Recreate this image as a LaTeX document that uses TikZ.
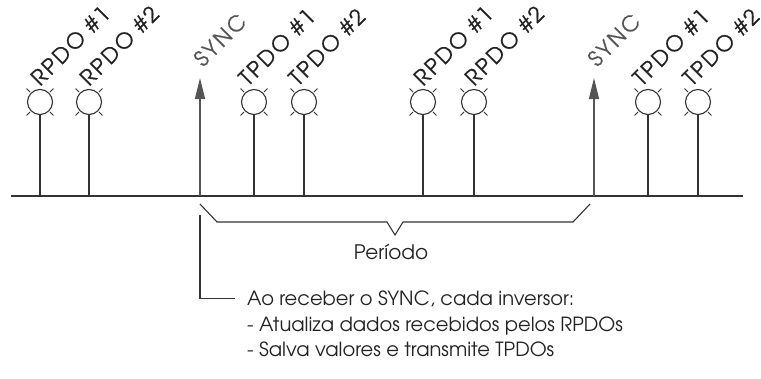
\documentclass[tikz,border=0pt]{standalone}
\usepackage{fontspec}
\setmainfont{texgyreadventor-regular.otf}
\usepackage{tikz}
\usetikzlibrary{arrows.meta}

\definecolor{ink}{HTML}{222222}
\definecolor{wire}{HTML}{333333}
\definecolor{syncgray}{HTML}{555555}

\tikzset{
  lamp/.style={circle, draw=wire, line width=1.1pt, fill=white, minimum size=25pt, inner sep=0pt},
  pdolabel/.style={rotate=45, anchor=base west, inner sep=0pt, text=ink,
    font=\fontsize{21.5}{21.5}\selectfont\addfontfeatures{LetterSpace=10,FakeBold=0.6}},
  synclabel/.style={pdolabel, text=syncgray},
  stem/.style={draw=wire, line width=1.1pt},
  syncarrow/.style={draw=syncgray, line width=1.3pt, -{Triangle[length=21pt,width=10pt]}},
  notetext/.style={anchor=base west, inner sep=0pt, text=ink, font=\fontsize{19.5}{19.5}\selectfont}
}

\begin{document}
\begin{tikzpicture}[x=1pt, y=-1pt]
            \useasboundingbox (0,0) rectangle (761,378);

            % bus
            \coordinate (busL) at (11,196);
            \coordinate (busR) at (743,196);
            \draw[stem] (busL) -- (busR);

            % first cycle
            \node[lamp] (ra1) at (40,102) {};
            \node[pdolabel] at (40,87) {RPDO \#1};
            \node[lamp] (ra2) at (89,102) {};
            \node[pdolabel] at (89,87) {RPDO \#2};
            \coordinate (syncA) at (200,196);
            \coordinate (syncAtip) at (200,78);
            \node[synclabel] at (203,68) {SYNC};
            \node[lamp] (ta1) at (254,102) {};
            \node[pdolabel] at (248,87) {TPDO \#1};
            \node[lamp] (ta2) at (304,102) {};
            \node[pdolabel] at (298,87) {TPDO \#2};

            % second cycle
            \node[lamp] (rb1) at (423,102) {};
            \node[pdolabel] at (423,87) {RPDO \#1};
            \node[lamp] (rb2) at (474,102) {};
            \node[pdolabel] at (474,87) {RPDO \#2};
            \coordinate (syncB) at (594,196);
            \coordinate (syncBtip) at (594,78);
            \node[synclabel] at (597,68) {SYNC};
            \node[lamp] (tb1) at (648,102) {};
            \node[pdolabel] at (642,87) {TPDO \#1};
            \node[lamp] (tb2) at (698,102) {};
            \node[pdolabel] at (692,87) {TPDO \#2};

            % stems and ticks
            \foreach \l in {ra1,ra2,ta1,ta2,rb1,rb2,tb1,tb2} {
              \draw[stem] (\l.south) -- (\l.south |- busL);
              \foreach \a in {45,135,225,315}
                \draw[draw=wire, line width=1pt] ([shift={(\a:1pt)}]\l.\a) -- ++(\a:5pt);
            }
            \draw[syncarrow] (syncA) -- (syncAtip); % sync 1
            \draw[syncarrow] (syncB) -- (syncBtip); % sync 2

            % period bracket
            \coordinate (brL) at (200,204);
            \coordinate (brR) at (590,204);
            \draw[stem] (brL) -- (217,222) -- (387,222) -- (395,235) -- (403,222) -- (573,222) -- (brR);
            \node[text=ink, font=\fontsize{20}{20}\selectfont, inner sep=0pt] (periodo) at (391,252) {Período};

            % note
            \node[notetext] (note1) at (247,305) {Ao receber o SYNC, cada inversor:};
            \node[notetext] (note2) at (247,331) {- Atualiza dados recebidos pelos RPDOs};
            \node[notetext] (note3) at (247,356) {- Salva valores e transmite TPDOs};
            \coordinate (callTop) at (200,215);
            \draw[stem] (callTop) |- ([xshift=-12pt]note1.west);
        \end{tikzpicture}
\end{document}
